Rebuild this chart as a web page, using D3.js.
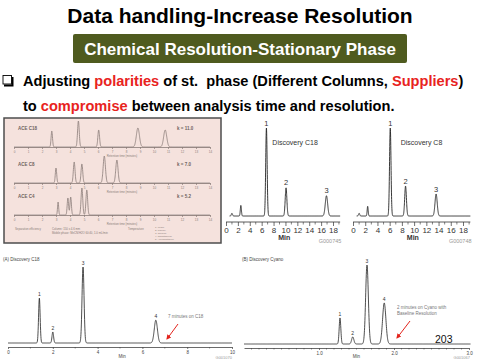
<!DOCTYPE html>
<html><head><meta charset="utf-8">
<script src="https://cdn.jsdelivr.net/npm/d3@7"></script>
<style>body{margin:0;background:#fff}svg{display:block}</style>
</head><body><script>
// ---------- data ----------
const titleText = "Data handling-Increase Resolution";
const bannerText = "Chemical Resolution-Stationary Phase";
const bullet1Words = ["Adjusting ", "polarities", " of st.\u00a0\u00a0phase (Different Columns, ", "Suppliers", ")"];
const bullet1Red = [1, 3];
const bullet2Words = ["to ", "compromise", " between analysis time and resolution."];
const bullet2Red = [1];

// ACE column comparison (inset)
const aceNames = ["ACE C18", "ACE C8", "ACE C4"];
const aceK = ["k = 11.0", "k = 7.0", "k = 5.2"];
const aceRt = [[2.7, 4.6, 6.05, 8.85, 10.8], [3.0, 4.3, 4.85, 6.45, 7.35], [3.15, 3.85, 4.05, 4.85, 5.2]];
const aceHeight = [[16, 26, 17, 19, 17], [15, 21, 19, 27, 23], [13, 17, 18, 27, 25]];
const aceWidth = [[0.05, 0.06, 0.06, 0.11, 0.11], [0.05, 0.06, 0.06, 0.08, 0.08], [0.04, 0.05, 0.05, 0.06, 0.06]];
const aceTicks = [0, 1, 2, 3, 4, 5, 6, 7, 8, 9, 10, 11, 12, 13, 14];
const aceFoot = ["Separation efficiency", "Column: 150 x 4.6 mm", "Mobile phase: MeCN/H2O 60:40, 1.0 mL/min", "Temperature"];
const acePeakNames = ["1. Uracil", "2. Phenol", "3. Toluene", "4. Naphthalene", "5. Acenaphthene"];

// Discovery C18 / C8 (top right)
const c18Rt = [1.0, 2.5, 6.8, 10.1, 16.9];
const c18H = [0.03, 0.12, 1.0, 0.32, 0.23];
const c18W = [0.1, 0.09, 0.12, 0.14, 0.2];
const c8Rt = [1.0, 2.4, 6.1, 8.6, 13.6];
const c8H = [0.03, 0.11, 1.0, 0.34, 0.25];
const c8W = [0.1, 0.08, 0.12, 0.14, 0.18];
const topPeakLabels = ["", "", "1", "2", "3"];
const topTicks = [0, 2, 4, 6, 8, 10, 12, 14, 16, 18];
const topMinor = [1, 3, 5, 7, 9, 11, 13, 15, 17, 19];

// (A) Discovery C18 / (B) Discovery Cyano (bottom)
const aRt = [1.4, 2.0, 3.35, 6.6];
const aH = [0.59, 0.145, 1.0, 0.30];
const aW = [0.035, 0.035, 0.045, 0.07];
const aTicks = [0, 2, 4, 6, 8, 10];
const aMinor = [1, 3, 5, 7, 9];
const bRt = [1.28, 1.45, 1.64, 1.87];
const bH = [0.33, 0.09, 1.0, 0.52];
const bW = [0.011, 0.015, 0.018, 0.022];
const bTicks = [1.0, 2.0, 3.0];
const bMinor = [0.1,0.2,0.3,0.4,0.5,0.6,0.7,0.8,0.9,1.1,1.2,1.3,1.4,1.5,1.6,1.7,1.8,1.9,2.1,2.2,2.3,2.4,2.5,2.6,2.7,2.8,2.9];
const bottomPeakLabels = ["1", "2", "3", "4"];

// ---------- drawing ----------
const FONT = "'Liberation Sans', Arial, Helvetica, sans-serif";
const NARROW = "'Liberation Sans Narrow', 'Liberation Sans', Arial, sans-serif";
const svg = d3.select("body").append("svg").attr("width", 480).attr("height", 360)
  .style("font-family", FONT);
svg.append("rect").attr("width", 480).attr("height", 360).attr("fill", "#fff");

// title
svg.append("text").attr("x", 240).attr("y", 23).attr("text-anchor", "middle")
  .attr("font-size", 21).attr("font-weight", "bold").attr("fill", "#000").text(titleText);
svg.append("rect").attr("x", 73).attr("y", 34).attr("width", 334).attr("height", 29).attr("rx", 2)
  .attr("fill", "#4f5b1f");
svg.append("text").attr("x", 240).attr("y", 55).attr("text-anchor", "middle")
  .attr("font-size", 17).attr("font-weight", "bold").attr("fill", "#fff").text(bannerText);

// bullet box
svg.append("path").attr("d", "M12.5,77 V85.5 H4").attr("fill", "none").attr("stroke", "#000").attr("stroke-width", 2);
svg.append("rect").attr("x", 3).attr("y", 75.5).attr("width", 8.5).attr("height", 8.5)
  .attr("fill", "#fff").attr("stroke", "#000").attr("stroke-width", 0.9);

function richLine(words, red, y) {
  const t = svg.append("text").attr("x", 23).attr("y", y).attr("font-size", 14.6).attr("font-weight", "bold");
  words.forEach((w, i) => t.append("tspan").attr("fill", red.includes(i) ? "#e8231e" : "#000").text(w));
}
richLine(bullet1Words, bullet1Red, 85.5);
richLine(bullet2Words, bullet2Red, 110.5);

// chromatogram helper
function trace(g, x, y, rt, h, w, t0, t1, color, sw) {
  const n = 1600;
  const pts = d3.range(n + 1).map(i => {
    const t = t0 + (t1 - t0) * i / n;
    let v = 0;
    rt.forEach((r, k) => { v += h[k] * Math.exp(-0.5 * ((t - r) / w[k]) ** 2); });
    return [t, v];
  });
  g.append("path").datum(pts)
    .attr("d", d3.line().x(d => x(d[0])).y(d => y(d[1])))
    .attr("fill", "none").attr("stroke", color).attr("stroke-width", sw).attr("stroke-linejoin", "round");
}
function axis(g, x, yPos, major, minor, fmt, fs, color, majorLen, minorLen) {
  const ax = g.append("g").attr("transform", `translate(0,${yPos})`)
    .call(d3.axisBottom(x).tickValues(major).tickSize(majorLen).tickSizeOuter(0).tickFormat(fmt).tickPadding(1.5));
  ax.select(".domain").attr("stroke", color).attr("stroke-width", 0.8);
  ax.selectAll(".tick line").attr("stroke", color).attr("stroke-width", 0.7);
  ax.selectAll("text").attr("font-size", fs).attr("fill", color).attr("font-family", NARROW);
  if (minor) {
    ax.selectAll(".minor").data(minor).enter().append("line").attr("class", "minor")
      .attr("x1", d => x(d)).attr("x2", d => x(d)).attr("y1", 0).attr("y2", minorLen)
      .attr("stroke", color).attr("stroke-width", 0.6);
  }
  return ax;
}

// ---- ACE inset ----
const ins = svg.append("g");
ins.append("rect").attr("x", 4).attr("y", 118).attr("width", 217).attr("height", 125)
  .attr("fill", "#f5e2dd").attr("stroke", "#4d4d4d").attr("stroke-width", 1.5);
const aceX = d3.scaleLinear().domain([0, 14]).range([14, 210]);
const aceBase = [147, 183, 215];
aceNames.forEach((nm, i) => {
  const yS = d3.scaleLinear().domain([0, 30]).range([aceBase[i], aceBase[i] - 30]);
  trace(ins, aceX, yS, aceRt[i], aceHeight[i], aceWidth[i], 0, 14, "#8a7c78", 0.8);
  axis(ins, aceX, aceBase[i], aceTicks, null, d => d, 3, "#8a7c78", 2, 0);
  ins.append("text").attr("x", 122).attr("y", aceBase[i] + 9.5).attr("font-size", 2.8).attr("fill", "#8a7c78")
    .attr("text-anchor", "middle").text("Retention time (minutes)");
  ins.append("text").attr("x", 18).attr("y", aceBase[i] - 17).attr("font-size", 4.5).attr("font-weight", "bold")
    .attr("fill", "#6e625e").text(nm);
  ins.append("text").attr("x", 177).attr("y", aceBase[i] - 17).attr("font-size", 4.5).attr("font-weight", "bold")
    .attr("fill", "#6e625e").text(aceK[i]);
});
const footX = [15, 52, 52, 128];
const footY = [230, 230, 234, 230];
aceFoot.forEach((t, i) => ins.append("text").attr("x", footX[i]).attr("y", footY[i]).attr("font-size", 2.8).attr("fill", "#8a7c78").text(t));
acePeakNames.forEach((t, i) => ins.append("text").attr("x", 155).attr("y", 228 + i * 3).attr("font-size", 2.5).attr("fill", "#8a7c78").text(t));

// ---- Discovery C18 / C8 ----
function topChart(x0, span, rt, h, w, name, code) {
  const g = svg.append("g");
  const x = d3.scaleLinear().domain([0, 18]).range([x0, x0 + span]);
  const y = d3.scaleLinear().domain([0, 1]).range([216, 128]);
  trace(g, x, y, rt, h, w, 0.6, 19.2, "#222", 0.9);
  const ax = axis(g, x, 222, topTicks, topMinor, d => d, 8, "#333", 4, 2.5);
  ax.select(".domain").attr("d", `M${x(0)},0H${x(19.2)}`);
  rt.forEach((r, i) => {
    if (topPeakLabels[i]) g.append("text").attr("x", x(r)).attr("y", y(h[i]) - 2.5).attr("text-anchor", "middle")
      .attr("font-size", 7.5).attr("font-family", NARROW).attr("fill", "#333").text(topPeakLabels[i]);
  });
  g.append("text").attr("x", x(7.8)).attr("y", 145).attr("font-size", 7).attr("font-family", NARROW)
    .attr("fill", "#333").text(name);
  g.append("text").attr("x", x(9.8)).attr("y", 240).attr("text-anchor", "middle").attr("font-size", 7)
    .attr("font-weight", "bold").attr("font-family", NARROW).attr("fill", "#333").text("Min");
  g.append("text").attr("x", x(19.4)).attr("y", 243).attr("text-anchor", "end").attr("font-size", 5.5)
    .attr("font-family", NARROW).attr("fill", "#999").text(code);
}
topChart(226, 107, c18Rt, c18H, c18W, "Discovery C18", "G000745");
topChart(353, 110, c8Rt, c8H, c8W, "Discovery C8", "G000748");

// ---- (A) Discovery C18 ----
const gA = svg.append("g");
const xA = d3.scaleLinear().domain([0, 10]).range([8, 232]);
const yA = d3.scaleLinear().domain([0, 1]).range([343, 267]);
trace(gA, xA, yA, aRt, aH, aW, 0, 10, "#222", 0.8);
axis(gA, xA, 347, aTicks, aMinor, d => d, 4.5, "#444", 2, 1.5);
aRt.forEach((r, i) => gA.append("text").attr("x", xA(r)).attr("y", yA(aH[i]) - 2).attr("text-anchor", "middle")
  .attr("font-size", 5).attr("fill", "#333").text(bottomPeakLabels[i]));
gA.append("text").attr("x", 3).attr("y", 261).attr("font-size", 4.5).attr("fill", "#444").text("(A) Discovery C18");
gA.append("text").attr("x", xA(5.1)).attr("y", 358).attr("text-anchor", "middle").attr("font-size", 4.5).attr("fill", "#444").text("Min");
gA.append("text").attr("x", 232).attr("y", 359).attr("text-anchor", "end").attr("font-size", 4).attr("fill", "#999").text("G001070");
gA.append("text").attr("x", 168).attr("y", 318).attr("font-size", 4.5).attr("fill", "#777").text("7 minutes on C18");

// ---- (B) Discovery Cyano ----
const gB = svg.append("g");
const xB = d3.scaleLinear().domain([0, 3]).range([244, 469]);
const yB = d3.scaleLinear().domain([0, 1]).range([344, 265]);
trace(gB, xB, yB, bRt, bH, bW, 0, 3.02, "#222", 0.8);
axis(gB, xB, 348, bTicks, bMinor, d3.format(".1f"), 4.5, "#444", 2, 1.5);
bRt.forEach((r, i) => gB.append("text").attr("x", xB(r)).attr("y", yB(bH[i]) - 2).attr("text-anchor", "middle")
  .attr("font-size", 5).attr("fill", "#333").text(bottomPeakLabels[i]));
gB.append("text").attr("x", 242).attr("y", 261).attr("font-size", 4.5).attr("fill", "#444").text("(B) Discovery Cyano");
gB.append("text").attr("x", xB(1.5)).attr("y", 358).attr("text-anchor", "middle").attr("font-size", 4.5).attr("fill", "#444").text("Min");
gB.append("text").attr("x", 470).attr("y", 359).attr("text-anchor", "end").attr("font-size", 4).attr("fill", "#999").text("G001067");
gB.append("text").attr("x", 397).attr("y", 309).attr("font-size", 4.5).attr("fill", "#777").text("2 minutes on Cyano with");
gB.append("text").attr("x", 397).attr("y", 315).attr("font-size", 4.5).attr("fill", "#777").text("Baseline Resolution");
gB.append("text").attr("x", 435).attr("y", 343).attr("font-size", 10.5).attr("fill", "#111").text("203");

// red arrows
const defs = svg.append("defs");
defs.append("marker").attr("id", "ah").attr("viewBox", "0 0 10 10").attr("refX", 8).attr("refY", 5)
  .attr("markerWidth", 5).attr("markerHeight", 5).attr("orient", "auto")
  .append("path").attr("d", "M0,0 L10,5 L0,10 z").attr("fill", "#e3231c");
svg.append("line").attr("x1", 178).attr("y1", 324).attr("x2", 167).attr("y2", 339)
  .attr("stroke", "#e3231c").attr("stroke-width", 1).attr("marker-end", "url(#ah)");
svg.append("line").attr("x1", 410).attr("y1", 321).attr("x2", 397).attr("y2", 338)
  .attr("stroke", "#e3231c").attr("stroke-width", 1).attr("marker-end", "url(#ah)");
</script></body></html>
